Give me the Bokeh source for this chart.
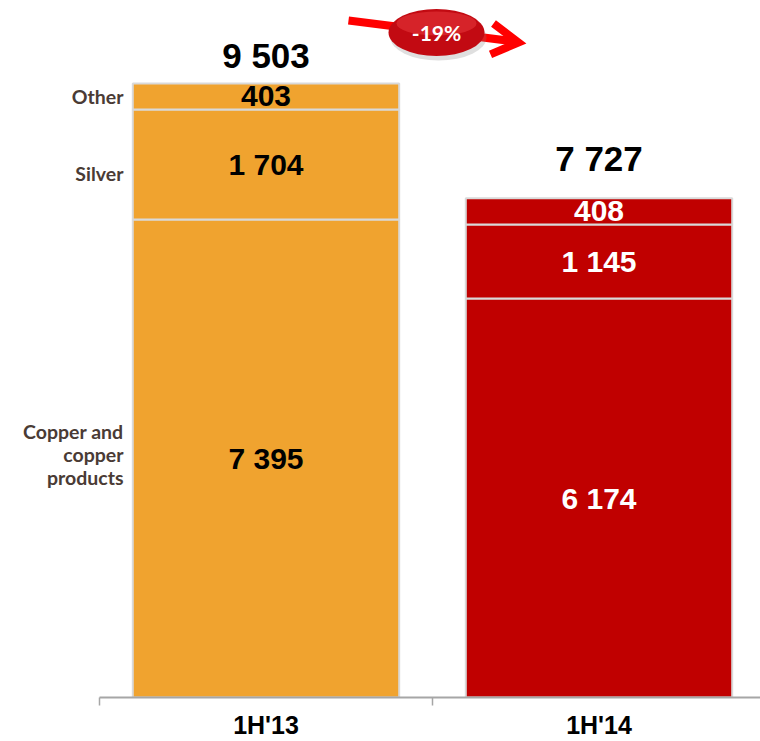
from bokeh.plotting import figure
from bokeh.models import ColumnDataSource, Range1d, FixedTicker
from bokeh.core.properties import value
from bokeh.embed import file_html
from bokeh.resources import INLINE

# ---------------- data ----------------
periods = ["1H'13", "1H'14"]
segment_names = ["Copper and\ncopper\nproducts", "Silver", "Other"]
copper = [7395, 6174]
silver = [1704, 1145]
other = [403, 408]
totals = [9503, 7727]
change_label = "-19%"

bar_colors = ["#F0A32F", "#C00000"]
value_colors = ["#000000", "#FFFFFF"]


def fmt(v):
    return f"{v:,}".replace(",", " ")


# ---------------- geometry helpers (canvas px -> data) ----------------
W, H = 760, 741
X_PX_PER_UNIT = 333.0
X_ORIGIN_PX = 99              # canvas px of x = 0.5
Y_BOTTOM_PX = 698             # canvas px of y = 0
Y_PX_PER_UNIT = 615.0 / totals[0]


def px2x(px):
    return 0.5 + (px - X_ORIGIN_PX) / X_PX_PER_UNIT


def py2y(py):
    return (Y_BOTTOM_PX - py) / Y_PX_PER_UNIT


x_lo, x_hi = px2x(0), px2x(W)
y_hi = py2y(0)

xs = list(range(1, len(periods) + 1))

rows = dict(x=[], bottom=[], top=[], color=[], mid=[], text=[], tcolor=[])
for i, xv in enumerate(xs):
    base = 0
    for vals in (copper, silver, other):
        v = vals[i]
        rows["x"].append(xv)
        rows["bottom"].append(base)
        rows["top"].append(base + v)
        rows["color"].append(bar_colors[i])
        rows["mid"].append(base + v / 2)
        rows["text"].append(fmt(v))
        rows["tcolor"].append(value_colors[i])
        base += v
src = ColumnDataSource(rows)

p = figure(width=W, height=H, x_range=Range1d(x_lo, x_hi), y_range=Range1d(0, y_hi),
           output_backend="svg", toolbar_location=None, y_axis_location=None,
           min_border_left=0, min_border_right=0, min_border_top=0,
           min_border_bottom=H - Y_BOTTOM_PX)
p.outline_line_color = None
p.xgrid.visible = False
p.ygrid.visible = False
p.background_fill_color = "white"

# ---------------- bars ----------------
p.vbar(x="x", bottom="bottom", top="top", width=0.8, fill_color="color",
       line_color="#D9D9D9", line_width=2, source=src)

p.text(x="x", y="mid", text="text", text_color="tcolor", source=src,
       text_font=value("Liberation Sans"), text_font_style="bold", text_font_size="30px",
       text_align="center", text_baseline="middle")

# totals
p.text(x=xs, y=totals, text=[fmt(t) for t in totals], y_offset=[-28, -40],
       text_color="#000000", text_font=value("Liberation Sans"), text_font_style="bold",
       text_font_size="35px", text_align="center", text_baseline="middle")

# segment names on the left
first_mids = [m for m, xv in zip(rows["mid"], rows["x"]) if xv == xs[0]]
p.text(x=[px2x(123)] * 3, y=first_mids, text=segment_names, y_offset=[-4, 9, 0],
       text_color="#4A3B35", text_font=value("Lato"), text_font_style="bold",
       text_font_size="19.5px", text_align="right", text_baseline="middle",
       text_line_height=1.0)

# ---------------- change badge ----------------
p.line(x=[px2x(348), px2x(514)], y=[py2y(20), py2y(41)], line_color="#FF0000",
       line_width=8)
p.line(x=[px2x(493), px2x(518), px2x(490)], y=[py2y(23), py2y(42), py2y(54)],
       line_color="#FF0000", line_width=8, line_join="miter")
p.ellipse(x=px2x(438), y=py2y(37), width=96, height=46, width_units="screen",
          height_units="screen", fill_color="#808080", fill_alpha=0.25, line_color=None)
p.ellipse(x=px2x(436), y=py2y(32), width=96, height=47, width_units="screen",
          height_units="screen", fill_color="#C20A12", line_color=None)
p.ellipse(x=px2x(436), y=py2y(23), width=80, height=24, width_units="screen",
          height_units="screen", fill_color="#E8383C", fill_alpha=0.55, line_color=None)
p.text(x=[px2x(436)], y=[py2y(32)], text=[change_label], text_color="white",
       text_font=value("Lato"), text_font_style="bold", text_font_size="21px",
       text_align="center", text_baseline="middle")

# ---------------- x axis ----------------
ax = p.xaxis[0]
ax.ticker = FixedTicker(ticks=xs, minor_ticks=[x - 0.5 for x in xs] + [xs[-1] + 0.5])
ax.major_label_overrides = {xv: lab for xv, lab in zip(xs, periods)}
ax.major_tick_line_color = None
ax.major_tick_out = 0
ax.major_tick_in = 0
ax.minor_tick_out = 8
ax.minor_tick_in = 0
ax.minor_tick_line_color = "#A6A6A6"
ax.minor_tick_line_width = 1.5
ax.axis_line_color = "#A6A6A6"
ax.axis_line_width = 2
ax.bounds = (0.5, x_hi)
ax.major_label_text_font = "Liberation Sans"
ax.major_label_text_font_style = "bold"
ax.major_label_text_font_size = "25px"
ax.major_label_text_color = "#000000"
ax.major_label_standoff = 5

open("out.html", "w").write(file_html(p, INLINE))
